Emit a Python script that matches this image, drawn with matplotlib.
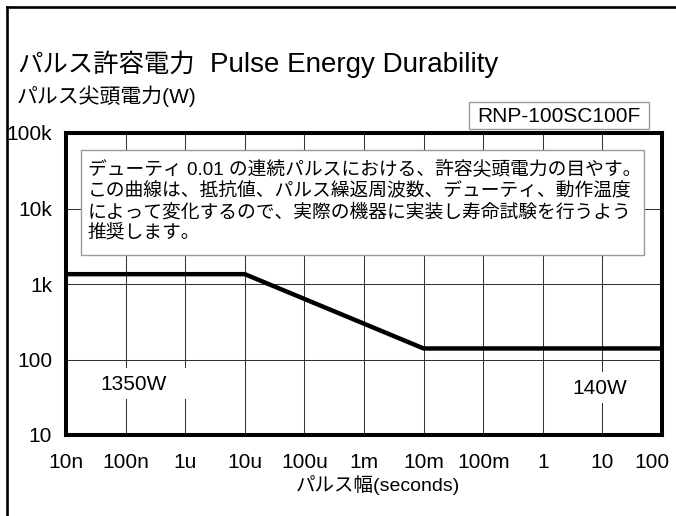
import matplotlib
matplotlib.use('Agg')
import matplotlib.pyplot as plt
from matplotlib.patches import Rectangle
from matplotlib.lines import Line2D
from matplotlib.ticker import NullLocator
import matplotlib.transforms as mtransforms

plt.rcParams['font.family'] = ['Liberation Sans', 'Noto Sans CJK JP', 'DejaVu Sans']

# ---- data ----
pulse_width = [1e-8, 1e-5, 1e-2, 1e2]
peak_power = [1350, 1350, 140, 140]
x_ticks = [1e-8, 1e-7, 1e-6, 1e-5, 1e-4, 1e-3, 1e-2, 1e-1, 1e0, 1e1, 1e2]
x_tick_labels = ['10n', '100n', '1u', '10u', '100u', '1m', '10m', '100m', '1', '10', '100']
y_ticks = [10, 100, 1e3, 1e4, 1e5]
y_tick_labels = ['10', '100', '1k', '10k', '100k']
title_jp = 'パルス許容電力'
title_en = 'Pulse Energy Durability'
ylabel = 'パルス尖頭電力(W)'
xlabel = 'パルス幅(seconds)'
model = 'RNP-100SC100F'
note_lines = [
    'デューティ 0.01 の連続パルスにおける、許容尖頭電力の目やす。',
    'この曲線は、抵抗値、パルス繰返周波数、デューティ、動作温度',
    'によって変化するので、実際の機器に実装し寿命試験を行うよう',
    '推奨します。',
]
label_left = '1350W'
label_right = '140W'

W, H = 676, 516
fig = plt.figure(figsize=(W / 100, H / 100), dpi=100)


def fx(px):
    return px / W


def fy(py):
    return 1 - py / H


# outer frame
fig.add_artist(Line2D([fx(7), fx(7)], [fy(7), 0], transform=fig.transFigure, color='black', lw=1.9))
fig.add_artist(Line2D([fx(7), 1], [fy(7), fy(7)], transform=fig.transFigure, color='black', lw=1.9))

ax = fig.add_axes([fx(66), fy(435), 596 / W, 302 / H])
ax.set_xscale('log')
ax.set_yscale('log')
ax.set_xlim(x_ticks[0], x_ticks[-1])
ax.set_ylim(y_ticks[0], y_ticks[-1])
ax.set_xticks(x_ticks)
ax.set_xticklabels(x_tick_labels, fontsize=15)
ax.set_yticks(y_ticks)
ax.set_yticklabels(y_tick_labels, fontsize=15)
ax.xaxis.set_minor_locator(NullLocator())
ax.yaxis.set_minor_locator(NullLocator())
ax.tick_params(axis='x', length=0, pad=13)
ax.tick_params(axis='y', length=0, pad=10)
ax.set_axisbelow(True)
ax.grid(True, color='#333333', lw=0.75)
for s in ax.spines.values():
    s.set_linewidth(2.9)
    s.set_zorder(10)

# shift the last x label a bit left like the reference
for lab in ax.get_xticklabels():
    if lab.get_text() == '100':
        lab.set_transform(lab.get_transform() + mtransforms.ScaledTranslation(-10 / 100, 0, fig.dpi_scale_trans))

ax.plot(pulse_width, peak_power, color='black', lw=3.2, zorder=5, solid_capstyle='butt')

# notes box
ax.add_patch(Rectangle((0.026, 0.596), 0.944, 0.348, transform=ax.transAxes,
                       facecolor='white', edgecolor='#999999', lw=1, zorder=3))
for i, line in enumerate(note_lines):
    fig.text(fx(88), fy(170 + 21.3 * i), line, fontsize=13.5, ha='left', va='center', zorder=6)

# value labels with white backing
ax.add_patch(Rectangle((0.024, 0.119), 0.226, 0.103, transform=ax.transAxes,
                       facecolor='white', edgecolor='none', zorder=3))
ax.add_patch(Rectangle((0.832, 0.106), 0.131, 0.103, transform=ax.transAxes,
                       facecolor='white', edgecolor='none', zorder=3))
fig.text(fx(134), fy(385), label_left, fontsize=15, ha='center', va='center', zorder=6)
fig.text(fx(600), fy(388), label_right, fontsize=15, ha='center', va='center', zorder=6)

# titles
fig.text(fx(17), fy(65), title_jp, fontsize=18.3, ha='left', va='center')
fig.text(fx(210), fy(65), title_en, fontsize=20, ha='left', va='center')
fig.text(fx(17), fy(96), ylabel, fontsize=15, ha='left', va='center')
fig.text(fx(378), fy(485), xlabel, fontsize=14, ha='center', va='center')

# model box
fig.add_artist(Rectangle((fx(469), fy(129)), 180 / W, 27 / H, transform=fig.transFigure,
                         facecolor='white', edgecolor='#999999', lw=1))
fig.text(fx(559), fy(116), model, fontsize=15, ha='center', va='center')

fig.savefig('out.png', dpi=100)
